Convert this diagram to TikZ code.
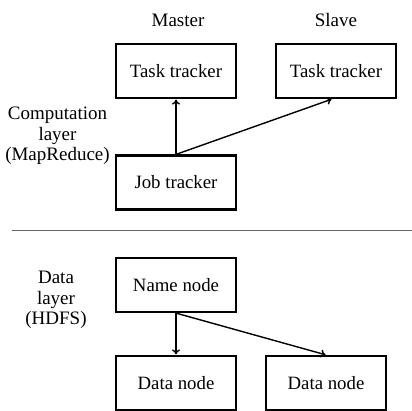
\documentclass[tikz,border=0pt]{standalone}
\usepackage{fontspec}
\setmainfont{Liberation Serif}
\usetikzlibrary{calc,arrows.meta}
\tikzset{
  boxnode/.style={draw=black, line width=2.2pt, minimum width=120pt, minimum height=54pt, inner sep=0pt, font=\fontsize{18.8}{20}\selectfont},
  lbl/.style={font=\fontsize{19}{20.5}\selectfont, align=center, inner sep=0pt},
  conn/.style={line width=1.4pt, -{To[length=5pt,width=8pt]}, shorten >=0.5pt}
}
\begin{document}
\begin{tikzpicture}[x=1pt,y=-1pt]
\useasboundingbox (0,0) rectangle (412,411);
\clip (0,0) rectangle (412,411);
\node[lbl] (master) at (178,20) {Master};
\node[lbl] (slave) at (336,20) {Slave};
\node[boxnode] (tt1) at (176,71) {Task tracker};
\node[boxnode] (tt2) at (336,71) {Task tracker};
\node[boxnode] (jt) at (176,182.5) {Job tracker};
\node[lbl] (comp) at (57.5,136) {Computation\\layer\\(MapReduce)};
\coordinate (sep1) at (12,231);
\coordinate (sep2) at (412,231);
\draw[line width=1pt, gray!80!black] (sep1) -- (sep2);
\node[lbl] (data) at (56,300) {Data\\layer\\(HDFS)};
\node[boxnode] (nn) at (176,285) {Name node};
\node[boxnode] (dn1) at (176,383) {Data node};
\node[boxnode] (dn2) at (326,383) {Data node};
\coordinate (ttin) at ($(tt2.south)+(-4,0)$);
\draw[conn] (jt.north) -- (tt1.south);
\draw[conn] (jt.north) -- (ttin);
\draw[conn] (nn.south) -- (dn1.north);
\draw[conn] (nn.south) -- (dn2.north);
\end{tikzpicture}
\end{document}
